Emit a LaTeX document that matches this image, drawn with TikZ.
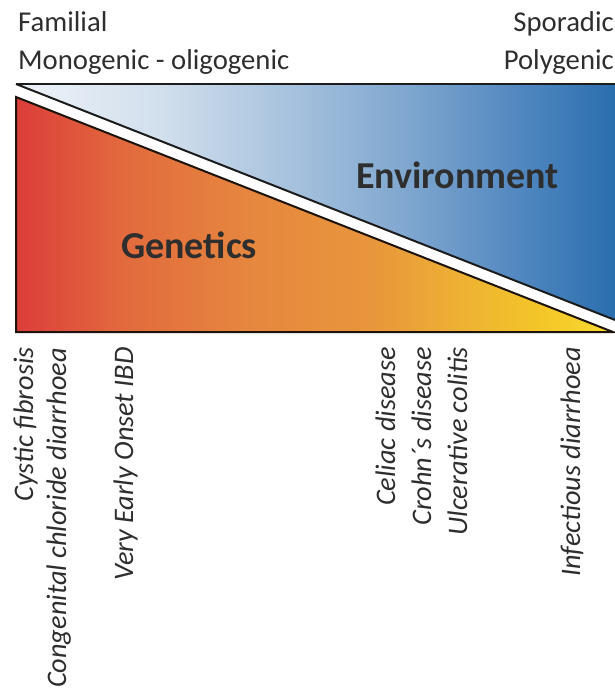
\documentclass[tikz,border=0pt]{standalone}
\usepackage{fontspec}
\setmainfont{Carlito}
\definecolor{txt}{HTML}{2E2E2E}
\definecolor{edgec}{HTML}{1C1C1C}
\definecolor{gA}{HTML}{DC3D3A}
\definecolor{gB}{HTML}{E26A3D}
\definecolor{gC}{HTML}{E6883F}
\definecolor{gD}{HTML}{E8963B}
\definecolor{gE}{HTML}{EEB233}
\definecolor{gF}{HTML}{F4C628}
\definecolor{gG}{HTML}{F8DA30}
\definecolor{bA}{HTML}{EEF3F9}
\definecolor{bB}{HTML}{D0DEEC}
\definecolor{bC}{HTML}{A8C3DE}
\definecolor{bD}{HTML}{80A7CF}
\definecolor{bE}{HTML}{4F86BF}
\definecolor{bF}{HTML}{2A6EAE}
\pgfdeclarehorizontalshading{genshade}{100bp}{color(0bp)=(gA); color(25bp)=(gA); color(34bp)=(gB); color(45bp)=(gC); color(55bp)=(gD); color(62.5bp)=(gE); color(69bp)=(gF); color(75bp)=(gG); color(100bp)=(gG)}
\pgfdeclarehorizontalshading{envshade}{100bp}{color(0bp)=(bA); color(25bp)=(bA); color(37.5bp)=(bB); color(47.5bp)=(bC); color(57.5bp)=(bD); color(67.5bp)=(bE); color(75bp)=(bF); color(100bp)=(bF)}
\begin{document}
\begin{tikzpicture}[x=1pt,y=-1pt,
  toplabel/.style={inner sep=0pt,text=txt,font=\fontsize{28.7}{28.7}\selectfont},
  biglabel/.style={inner sep=0pt,text=txt,font=\fontsize{38}{38}\selectfont\bfseries},
  dislabel/.style={inner sep=0pt,text=txt,rotate=90,anchor=base east,font=\fontsize{28.3}{28.3}\selectfont\itshape},
  edge/.style={draw=edgec,line width=2pt,line join=miter}]
\useasboundingbox (0,0) rectangle (615,698);
% blue triangle (environment)
\coordinate (A) at (16,84);
\coordinate (B) at (615,84);
\coordinate (C) at (615,320);
\shade[shading=envshade] (A) -- (B) -- (C) -- cycle;
\draw[edge] (A) -- (B);
\draw[edge] (A) -- (C);
% orange triangle (genetics)
\coordinate (D) at (16,97);
\coordinate (E) at (16,332);
\coordinate (F) at (613,332);
\shade[shading=genshade] (D) -- (E) -- (F) -- cycle;
\draw[edge,draw=black!85!brown] (D) -- (E) -- (F) -- cycle;
% top labels
\node[toplabel,anchor=base west] (fam) at (18,32) {Familial};
\node[toplabel,anchor=base west] (mono) at (18,70) {Monogenic - oligogenic};
\node[toplabel,anchor=base east] (spo) at (614,32) {Sporadic};
\node[toplabel,anchor=base east] (poly) at (614,70) {Polygenic};
% big labels
\node[biglabel,anchor=base west] (env) at (356,188) {Environment};
\node[biglabel,anchor=base west] (gen) at (121,258) {Genetics};
% disease labels
\node[dislabel] (cf) at (33,347) {Cystic fibrosis};
\node[dislabel] (ccd) at (66,348) {Congenital chloride diarrhoea};
\node[dislabel] (veo) at (133,347) {Very Early Onset IBD};
\node[dislabel] (cel) at (395,347) {Celiac disease};
\node[dislabel] (cro) at (431,347) {Crohn´s disease};
\node[dislabel] (uc) at (467,347) {Ulcerative colitis};
\node[dislabel] (inf) at (580,347) {Infectious diarrhoea};
\end{tikzpicture}
\end{document}
